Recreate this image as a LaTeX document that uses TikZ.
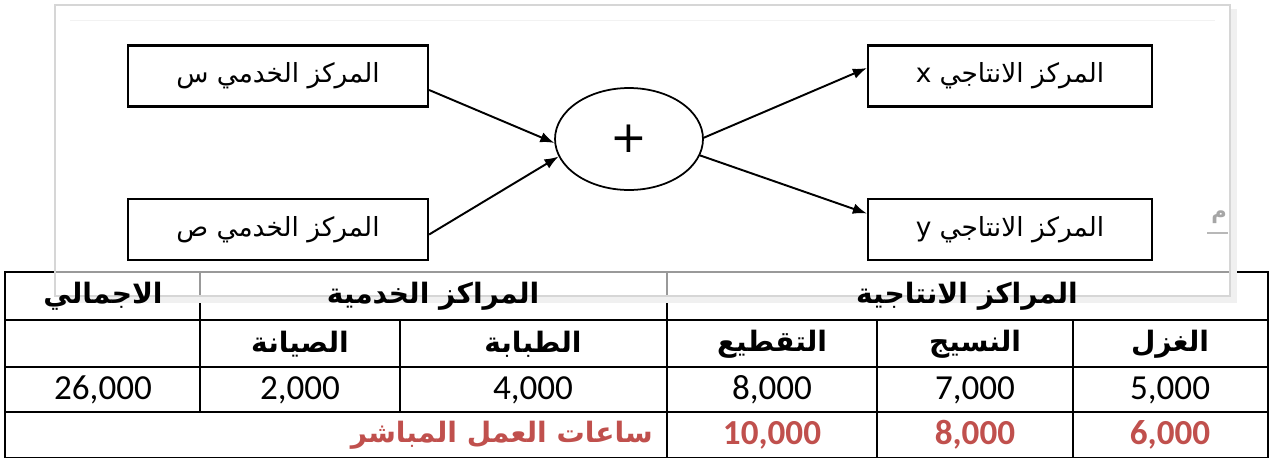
\documentclass[tikz,border=0pt]{standalone}
\usepackage{fontspec}
\setmainfont{Carlito}
\newfontfamily\arabicfont[Script=Arabic]{DejaVu Sans}
\TeXXeTstate=1
\usetikzlibrary{shapes.geometric,calc,arrows.meta}
\definecolor{hoursred}{HTML}{C0504D}
\tikzset{
  centre/.style={draw, line width=1.3pt, minimum width=6cm, minimum height=1.22cm,
    inner sep=0pt, font=\arabicfont\fontsize{15}{17}\selectfont},
  flow/.style={line width=1.1pt, -{Latex[length=8pt, width=6pt]}},
  head/.style={font=\arabicfont\bfseries\fontsize{16}{18}\selectfont},
  num/.style={font=\fontsize{20}{24}\selectfont},
  rednum/.style={font=\bfseries\fontsize{20}{24}\selectfont, text=hoursred},
}
\begin{document}
\begin{tikzpicture}[x=0.02cm, y=-0.02cm]
\useasboundingbox (0,0) rectangle (1273,457);
% table grid
\draw[line width=1.3pt] (5,272) rectangle (1268,458);
\draw[line width=1.3pt] (5,320) -- (1268,320);
\draw[line width=1.3pt] (5,367) -- (1268,367);
\draw[line width=1.3pt] (5,412) -- (1268,412);
\draw[line width=1.3pt] (200,272) -- (200,412);
\draw[line width=1.3pt] (400,320) -- (400,412);
\draw[line width=1.3pt] (667,272) -- (667,458);
\draw[line width=1.3pt] (877,320) -- (877,458);
\draw[line width=1.3pt] (1073,320) -- (1073,458);
% the screenshot panel lying over the table
\fill[white, opacity=.6] (55,5) rectangle (1230,296);
\draw[black!6, line width=3pt] (59,300) -- (1234,300) -- (1234,9);
\draw[black!16, line width=1pt] (55,5) rectangle (1230,296);
\draw[black!5] (70,20) -- (1215,20);
% diagram
\node[centre] (s1) at (278,76) {\beginR المركز الخدمي س\endR};
\node[centre] (s2) at (278,229.5) {\beginR المركز الخدمي ص\endR};
\node[centre, minimum width=5.68cm] (px) at (1010,76) {\beginR المركز الانتاجي x\endR};
\node[centre, minimum width=5.68cm] (py) at (1010,229.5) {\beginR المركز الانتاجي y\endR};
\node[draw, ellipse, line width=1pt, minimum width=2.96cm, minimum height=2.04cm,
  inner sep=0pt] (sum) at (629,139) {\arabicfont\fontsize{25}{25}\selectfont +};
\draw[flow] ($(s1.east)+(0,14)$) -- (sum.183);
\draw[flow] ($(s2.east)+(0,5)$) -- (sum.194);
\draw[flow] (sum.1) -- ($(px.west)+(0,-8)$);
\draw[flow] (sum.347) -- ($(py.west)+(0,-16)$);
\node[text=black!35, font=\arabicfont\bfseries\fontsize{12}{12}\selectfont] (frag) at (1219,217) {\beginR م\endR};
\draw[black!28, line width=1.5pt] (1207,233) -- (1228,233);
% table texts
\node[head] (total) at (103,296) {\beginR الاجمالي\endR};
\node[head] (service) at (433,296) {\beginR المراكز الخدمية\endR};
\node[head] (product) at (967,296) {\beginR المراكز الانتاجية\endR};
\node[head] (maint) at (300,344) {\beginR الصيانة\endR};
\node[head] (print) at (533,344) {\beginR الطبابة\endR};
\node[head] (cut) at (772,344) {\beginR التقطيع\endR};
\node[head] (weave) at (975,344) {\beginR النسيج\endR};
\node[head] (spin) at (1170,344) {\beginR الغزل\endR};
\node[num] (v1) at (103,390) {26,000};
\node[num] (v2) at (300,390) {2,000};
\node[num] (v3) at (533,390) {4,000};
\node[num] (v4) at (772,390) {8,000};
\node[num] (v5) at (975,390) {7,000};
\node[num] (v6) at (1170,390) {5,000};
\node[head, text=hoursred, anchor=east] (hours) at (659,435) {\beginR ساعات العمل المباشر\endR};
\node[rednum] (h1) at (772,435) {10,000};
\node[rednum] (h2) at (975,435) {8,000};
\node[rednum] (h3) at (1170,435) {6,000};
\end{tikzpicture}
\end{document}
